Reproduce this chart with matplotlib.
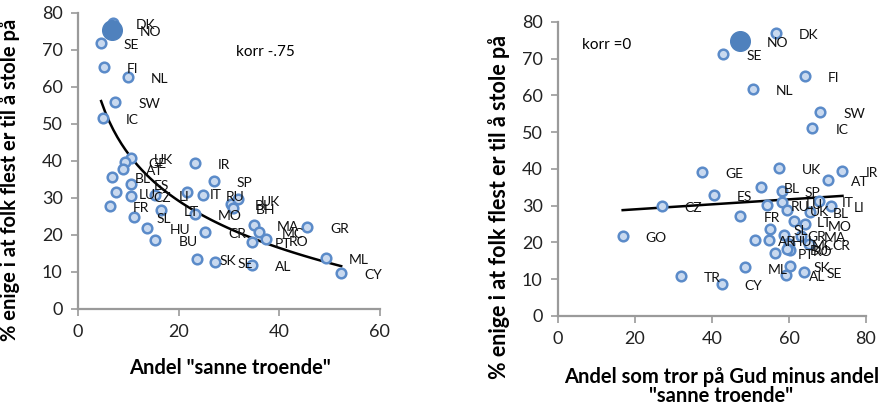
import numpy as np
import matplotlib
matplotlib.use("Agg")
import matplotlib.pyplot as plt

plt.rcParams["font.family"] = ["Lato", "DejaVu Sans"]

# left panel: share of "true believers" vs trust
left_labels = ["DK", "SE", "FI", "NL", "SW", "IC", "UK", "GE", "AT", "BL", "ES", "LU", "CZ",
               "LI", "FR", "LT", "SL", "HU", "BU", "IR", "SP", "IT", "RU", "MO", "BL", "UK",
               "BH", "CR", "SK", "SE", "AL", "MA", "MC", "PT", "RO", "GR", "ML", "CY"]
left_x = [6.95, 4.6, 5.1, 9.9, 7.4, 5.0, 10.5, 9.4, 8.9, 6.8, 10.5, 7.5, 10.5,
          15.4, 6.3, 16.4, 11.1, 13.7, 15.4, 23.3, 27.0, 21.6, 24.9, 23.3, 30.5, 31.7,
          30.8, 25.3, 23.6, 27.2, 34.6, 35.0, 35.9, 34.6, 37.4, 45.6, 49.3, 52.3]
left_y = [77.2, 71.8, 65.5, 62.6, 56.0, 51.7, 40.7, 39.8, 37.8, 35.7, 33.9, 31.5, 30.6,
          30.9, 27.8, 26.7, 24.9, 21.9, 18.6, 39.5, 34.5, 31.5, 30.8, 25.8, 28.5, 29.6,
          27.4, 20.7, 13.6, 12.6, 12.0, 22.7, 20.7, 18.1, 18.8, 22.2, 13.7, 9.7]
left_no = (6.8, 75.4)

# right panel: believe in God minus "true believers" vs trust
right_labels = ["DK", "SE", "FI", "NL", "SW", "IC", "GE", "UK", "IR", "AT", "ES", "BL", "SP",
                "CZ", "RU", "LU", "UK", "IT", "LI", "BL", "FR", "LT", "MO", "SL", "AR", "HU",
                "GR", "MA", "MC", "CR", "PT", "RO", "BU", "ML", "SK", "AL", "SE", "CY", "TR", "GO"]
right_x = [56.6, 42.9, 64.2, 50.6, 68.1, 66.1, 37.5, 57.3, 73.9, 70.1, 40.4, 52.7, 58.2,
           26.9, 54.4, 58.3, 59.5, 67.7, 70.9, 65.5, 47.4, 61.2, 64.2, 55.2, 51.3, 54.7,
           58.7, 63.1, 59.9, 65.2, 56.4, 60.2, 59.5, 48.6, 60.3, 59.2, 63.8, 42.5, 31.9, 16.8]
right_y = [77.0, 71.4, 65.4, 61.8, 55.4, 51.1, 39.3, 40.3, 39.4, 37.1, 32.9, 35.0, 34.1,
           30.0, 30.1, 30.9, 28.9, 31.2, 30.0, 28.3, 27.1, 25.9, 24.9, 23.8, 20.8, 20.8,
           22.0, 21.9, 19.7, 19.7, 17.1, 17.9, 18.2, 13.2, 13.5, 11.2, 12.1, 8.7, 11.0, 21.8]
right_no = (47.3, 74.9)

# trendlines (log fit left, linear fit right)
left_trend = (84.2, -18.35)    # a + b*ln(x)
right_trend = (27.66, 0.068)   # a + b*x

ylabel = "% enige i at folk flest er til å stole på"
face = "#c9d9ef"
edge = "#5b8bc9"
axis_grey = "#9a9a9a"

fig = plt.figure(figsize=(8.85, 4.07), dpi=100)
ax1 = fig.add_axes([0.0881, 0.2408, 0.3412, 0.7273])
ax2 = fig.add_axes([0.6305, 0.2236, 0.3480, 0.7224])


def draw_panel(ax, xs, ys, labels, no_pt, xmax):
    ax.scatter(xs, ys, s=48, facecolor=face, edgecolor=edge, linewidth=1.8, zorder=3)
    ax.scatter([no_pt[0]], [no_pt[1]], s=200, color="#4f81bd", zorder=4)
    for lab, x, y in zip(labels, xs, ys):
        ax.annotate(lab, (x, y), xytext=(16.5, -1.5), textcoords="offset points",
                    fontsize=10, va="center", ha="left", color="#111111", zorder=5)
    ax.annotate("NO", no_pt, xytext=(19.5, -1.5), textcoords="offset points",
                fontsize=10, va="center", ha="left", color="#111111", zorder=5)
    ax.set_xlim(0, xmax)
    ax.set_ylim(0, 80)
    ax.set_yticks(range(0, 81, 10))
    ax.set_xticks(range(0, xmax + 1, 20))
    for side in ["top", "right"]:
        ax.spines[side].set_visible(False)
    for side in ["left", "bottom"]:
        ax.spines[side].set_color(axis_grey)
        ax.spines[side].set_linewidth(1.6)
    ax.tick_params(direction="out", length=5, width=1.2, color=axis_grey,
                   labelsize=13, labelcolor="#222222", pad=6)


draw_panel(ax1, left_x, left_y, left_labels, left_no, 60)
draw_panel(ax2, right_x, right_y, right_labels, right_no, 80)

xx = np.linspace(min(left_x), max(left_x), 60)
ax1.plot(xx, left_trend[0] + left_trend[1] * np.log(xx), color="black", lw=1.8, zorder=2)

xx2 = np.array([min(right_x), max(right_x)])
ax2.plot(xx2, right_trend[0] + right_trend[1] * xx2, color="black", lw=1.8, zorder=2)

ax1.text(31.4, 69.5, "korr -.75", fontsize=11, va="center")
ax2.text(6.2, 73.7, "korr =0", fontsize=11, va="center")

ax1.set_ylabel(ylabel, fontsize=14.5, fontweight="bold")
ax2.set_ylabel(ylabel, fontsize=15.5, fontweight="bold")
ax1.set_xlabel('Andel "sanne troende"', fontsize=14.5, fontweight="bold")
ax2.set_xlabel('Andel som tror på Gud minus andel\n"sanne troende"', fontsize=14.5,
               fontweight="bold", linespacing=0.95)
ax1.yaxis.set_label_coords(-0.192, 0.436)
ax2.yaxis.set_label_coords(-0.156, 0.37)
ax1.xaxis.set_label_coords(0.503, -0.166)
ax2.xaxis.set_label_coords(0.53, -0.173)

fig.savefig("out.png", dpi=100)
